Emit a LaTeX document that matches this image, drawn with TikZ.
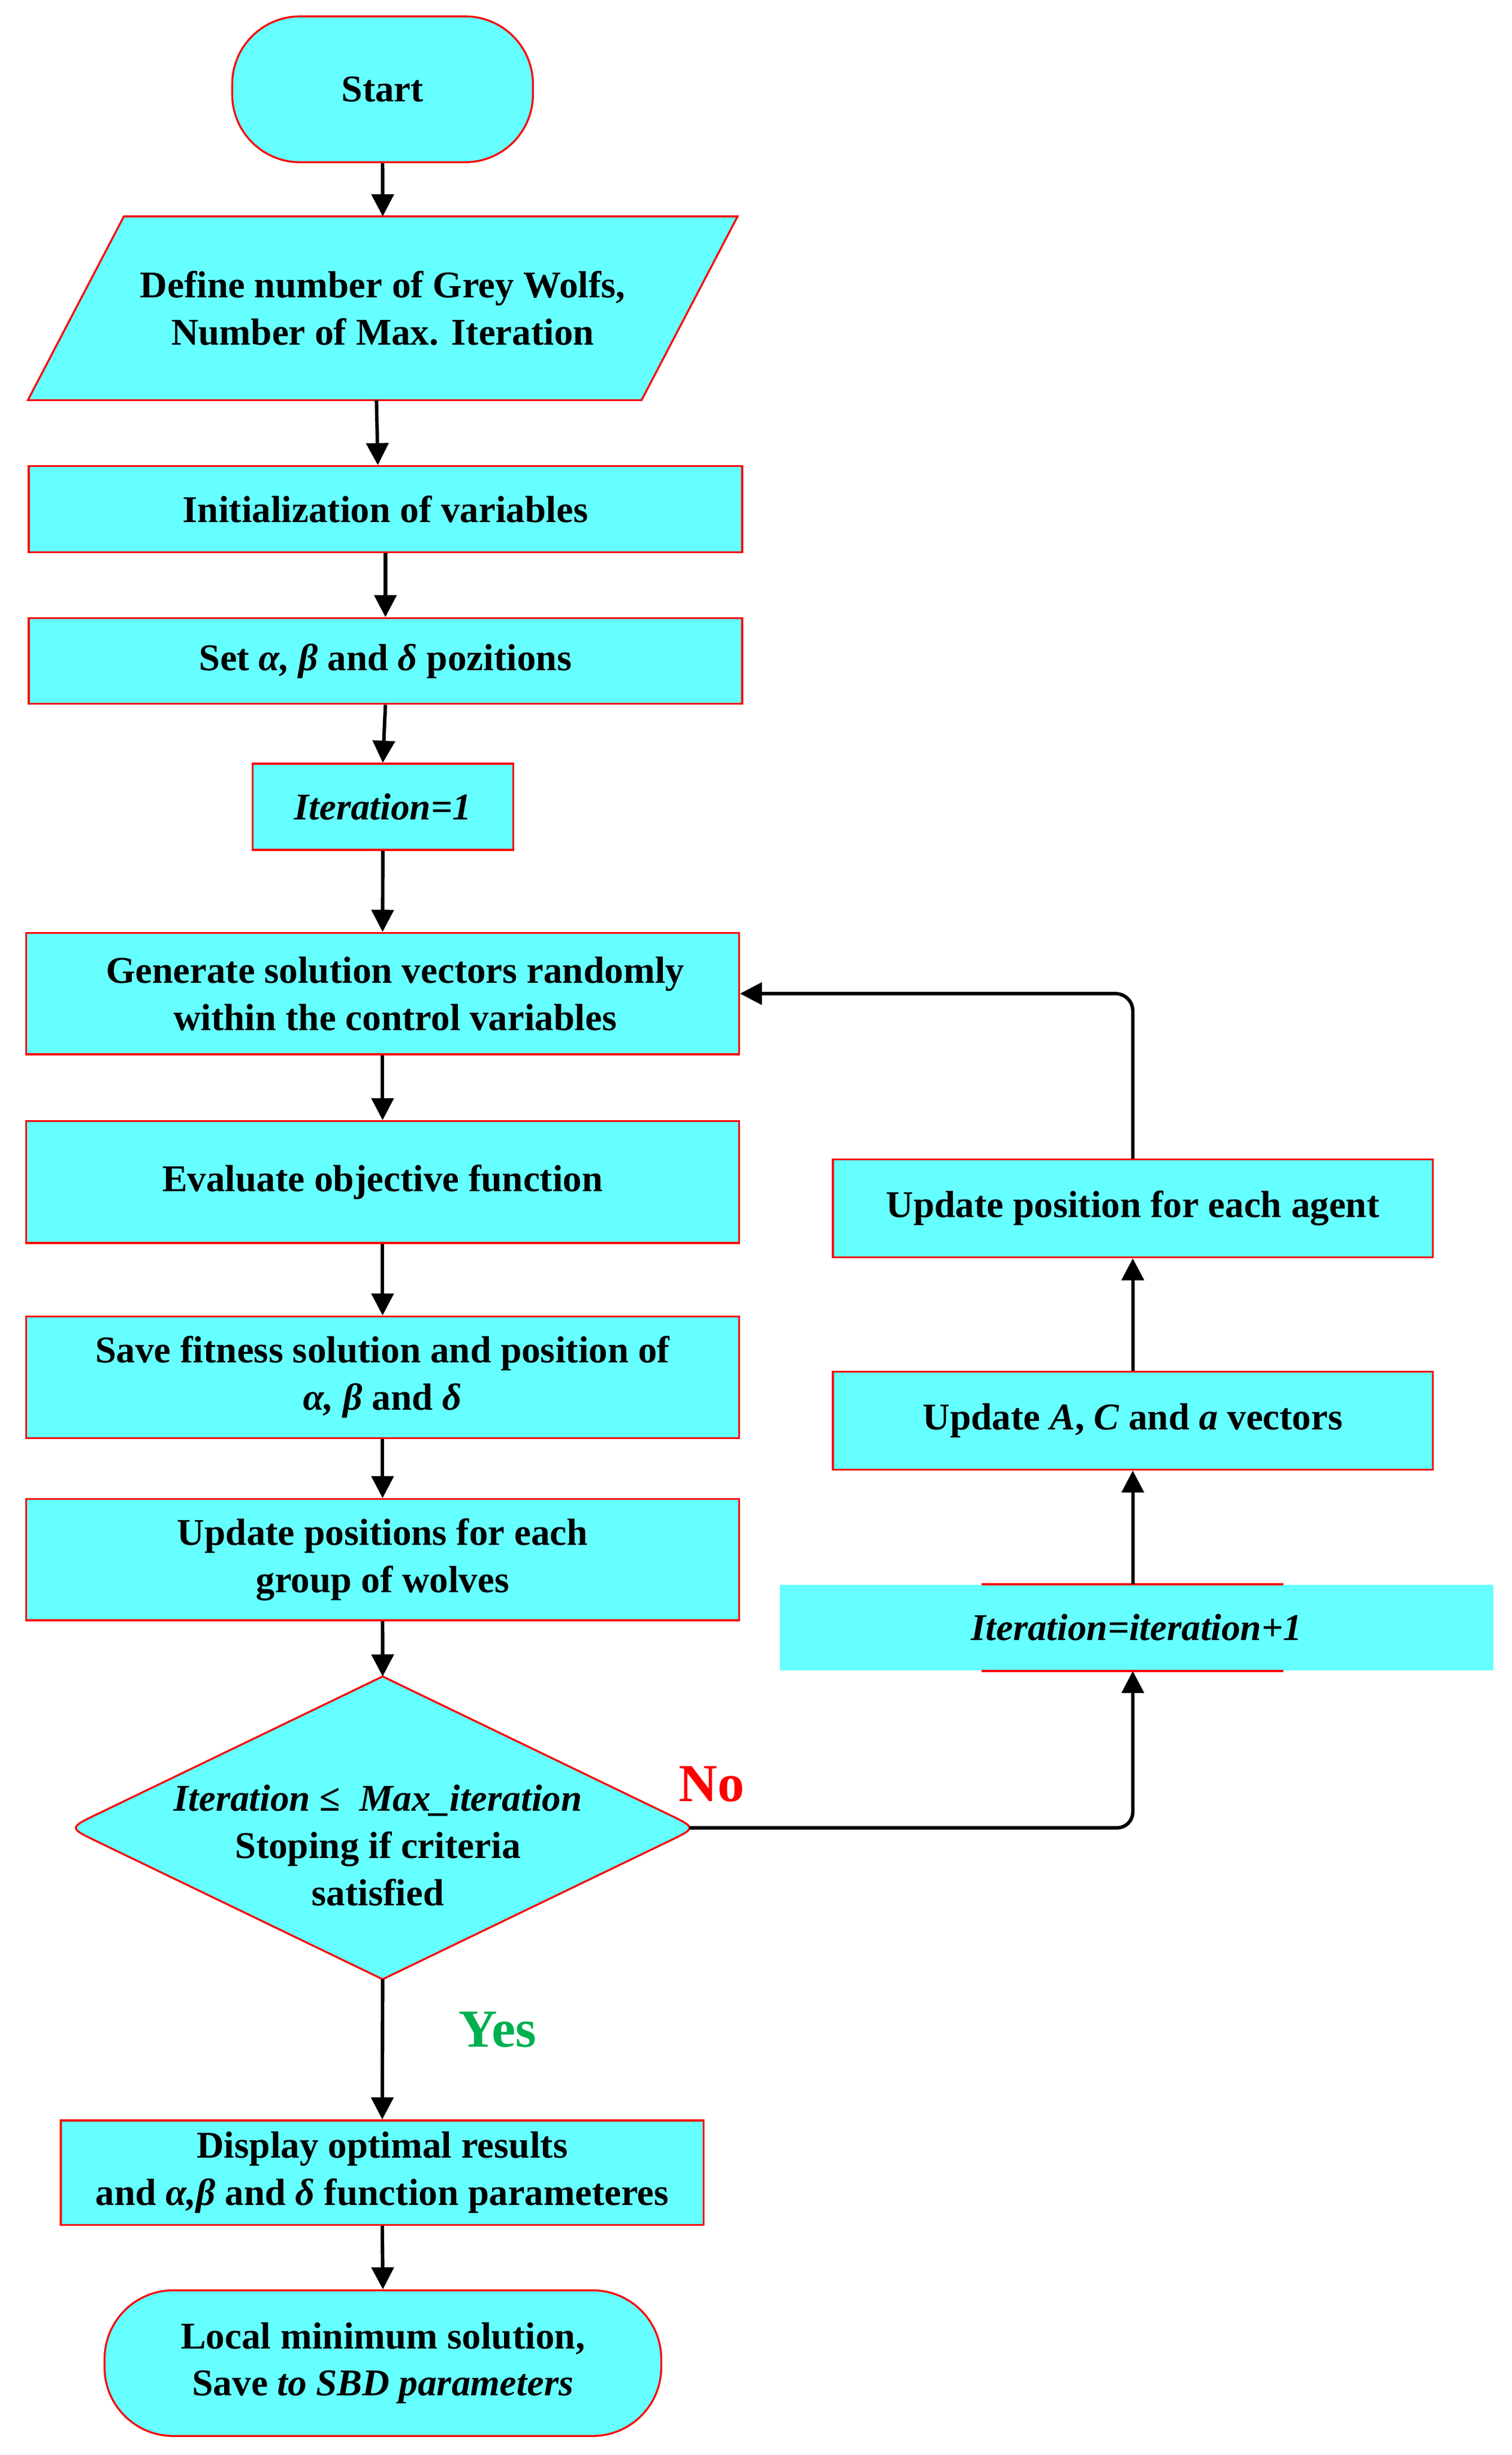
\documentclass[tikz,border=0pt]{standalone}
\usepackage{fontspec}
\setmainfont{Liberation Serif}
\usetikzlibrary{arrows.meta,calc}
\definecolor{boxfill}{HTML}{66FFFF}
\definecolor{boxline}{HTML}{FF0000}
\definecolor{yesgreen}{HTML}{00B050}
\pgfdeclarelayer{bg}
\pgfsetlayers{bg,main}
\begin{document}
\begin{tikzpicture}[x=0.5pt,y=-0.5pt,
  txt/.style={align=center,font=\bfseries\fontsize{12}{15}\selectfont,inner sep=0pt},
  box/.style={txt,draw=boxline,line width=0.6pt,fill=boxfill},
  term/.style={box,rounded corners=21.5pt},
  shapeline/.style={draw=boxline,line width=0.6pt,fill=boxfill},
  arr/.style={line width=1.1pt,-{Triangle[length=7pt,width=7pt]}},
  lbl/.style={font=\bfseries\fontsize{17}{20}\selectfont,inner sep=0pt}]
\useasboundingbox (0,0) rectangle (960,1559.1);

% left column
\node[term, minimum width=95.5pt, minimum height=46.3pt] (start) at (243,56.7) {Start};
\node[txt, minimum width=225pt, minimum height=57.95pt] (para) at (243.1,195.75)
  {Define number of Grey Wolfs,\\Number of Max. Iteration};
\begin{pgfonlayer}{bg}
  \path[shapeline] ($(para.north west)+(61,0)$) -- (para.north east)
    -- ($(para.south east)-(61,0)$) -- (para.south west) -- cycle;
\end{pgfonlayer}
\node[box, minimum width=226.6pt, minimum height=27.3pt] (init) at (244.8,323.3) {Initialization of variables};
\node[box, minimum width=226.6pt, minimum height=27.25pt] (setpos) at (244.8,419.75)
  {Set {\itshape α, β} and {\itshape δ} pozitions};
\node[box, minimum width=82.85pt, minimum height=27.35pt] (iter1) at (243.15,512.35) {\itshape Iteration=1};
\node[box, minimum width=226.4pt, minimum height=38.6pt] (gen) at (243,631)
  {\hspace*{8pt}Generate solution vectors randomly\\\hspace*{8pt}within the control variables};
\node[box, minimum width=226.4pt, minimum height=38.7pt] (eval) at (243,750.7) {Evaluate objective function};
\node[box, minimum width=226.4pt, minimum height=38.65pt] (save) at (243,874.65)
  {Save fitness solution and position of\\{\itshape α, β} and {\itshape δ}};
\node[box, minimum width=226.4pt, minimum height=38.5pt] (upd) at (243,990.5)
  {Update positions for each\\group of wolves};

% decision
\node[txt, minimum width=198.95pt, minimum height=95.75pt] (dec) at (243.05,1160.8) {};
\begin{pgfonlayer}{bg}
  \path[shapeline] (dec.north) -- ($(dec.east)!0.09!(dec.north)$)
    .. controls (dec.east) and (dec.east) .. ($(dec.east)!0.09!(dec.south)$) -- (dec.south)
    -- ($(dec.west)!0.09!(dec.south)$) .. controls (dec.west) and (dec.west) .. ($(dec.west)!0.09!(dec.north)$) -- cycle;
\end{pgfonlayer}
\node[txt] (dectxt) at ([xshift=-1.5pt,yshift=-5.5pt]dec.center)
  {{\itshape Iteration} ≤\ \ {\itshape Max\_iteration}\\Stoping if criteria\\satisfied};
\coordinate (decR) at ([xshift=-2.25pt]dec.east);

\node[box, minimum width=204.2pt, minimum height=33.2pt] (disp) at (242.8,1379.8)
  {Display optimal results\\and {\itshape α,β} and {\itshape δ} function parameteres};
\node[term, rounded corners=21.8pt, minimum width=176.8pt, minimum height=46.25pt] (stop) at (243.2,1500.75)
  {Local minimum solution,\\Save {\itshape to SBD parameters}};

% right column
\node[box, minimum width=190.5pt, minimum height=31.1pt] (updagent) at (719.5,767.4) {Update position for each agent};
\node[box, minimum width=190.5pt, minimum height=31.15pt] (updac) at (719.5,902.15)
  {Update {\itshape A}, {\itshape C} and {\itshape a} vectors};
\node[txt, fill=boxfill, minimum width=226.6pt, minimum height=27.15pt] (iterinc) at (721.9,1033.65)
  {\itshape Iteration=iteration+1};
\draw[boxline, line width=0.6pt] ($(iterinc.north west)+(128.4,0)$) -- ($(iterinc.north west)+(320.1,0)$);
\draw[boxline, line width=0.6pt] ($(iterinc.south west)+(128.4,0)$) -- ($(iterinc.south west)+(320.1,0)$);

% labels
\node[lbl, text=boxline] (nolbl) at (452,1133) {No};
\node[lbl, text=yesgreen] (yeslbl) at (316,1289) {Yes};

% connectors
\draw[arr] (start.south) -- (para.north);
\draw[arr] ([xshift=-2pt]para.south) -- ([xshift=-2.4pt]init.north);
\draw[arr] (init.south) -- (setpos.north);
\draw[arr] (setpos.south) -- (iter1.north);
\draw[arr] (iter1.south) -- (gen.north);
\draw[arr] (gen.south) -- (eval.north);
\draw[arr] (eval.south) -- (save.north);
\draw[arr] (save.south) -- (upd.north);
\draw[arr] (upd.south) -- (dec.north);
\draw[arr] (dec.south) -- (disp.north);
\draw[arr] (disp.south) -- (stop.north);
\draw[arr, rounded corners=5pt] (decR) -| (updac.south |- iterinc.south);
\draw[arr] (updac.south |- iterinc.north) -- (updac.south);
\draw[arr] (updac.north) -- (updagent.south);
\draw[arr, rounded corners=5.5pt] (updagent.north) |- (gen.east);
\end{tikzpicture}
\end{document}
